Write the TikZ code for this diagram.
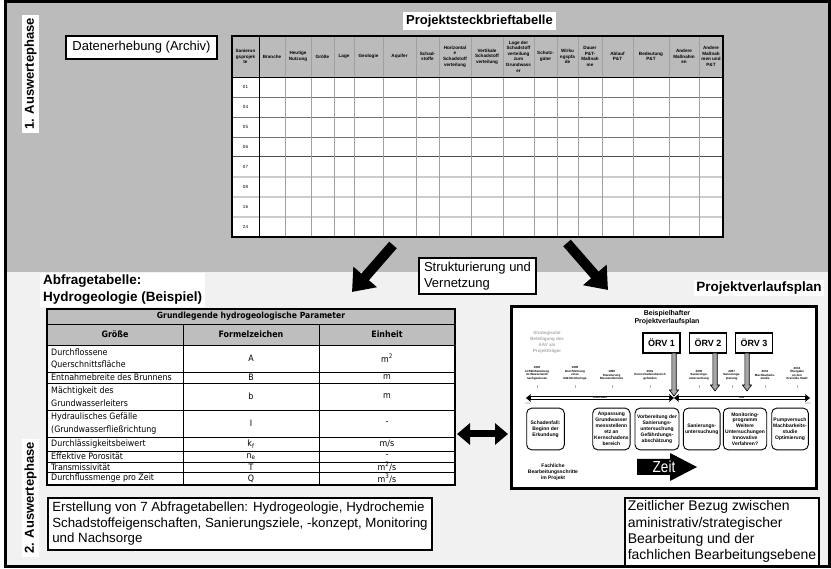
\documentclass[tikz,border=0pt]{standalone}
\usepackage{fontspec}
\setmainfont{Liberation Sans}
\newfontfamily\tabfont{DejaVu Sans Condensed}
\usetikzlibrary{arrows.meta}
\newcommand\fsz[2]{\fontsize{#1}{#2}\selectfont}
% grey block arrow pointing down: x, top y, tip y
\newcommand\orvdrop[3]{%
  \filldraw[fill=gray!70, draw=black, line width=0.6pt]
    (#1-2.2,#2) -- (#1+2.2,#2) -- (#1+2.2,#3-6) -- (#1+4.6,#3-6) -- (#1,#3)
    -- (#1-4.6,#3-6) -- (#1-2.2,#3-6) -- cycle;}

\definecolor{upperbg}{HTML}{BBBBBB}
\definecolor{lowerbg}{HTML}{F1F1F1}
\definecolor{headbg}{HTML}{BEBEBE}
\definecolor{gridline}{HTML}{A0A0A0}
\definecolor{faint}{HTML}{A8A8A8}

\tikzset{
  textbox/.style={draw, line width=1.6pt, fill=white, inner xsep=4pt, inner ysep=4pt, align=left},
  hugearrow/.style={line width=10pt, -{Triangle[length=20pt,width=30pt]}},
  pairarrow/.style={line width=7pt, {Triangle[length=13pt,width=21pt]}-{Triangle[length=13pt,width=21pt]}},
  colhead/.style={font=\bfseries\fsz{4.6}{5.6}, align=center, inner sep=0pt},
  cellt/.style={font=\tabfont\fsz{8.8}{12.5}, inner sep=0pt, align=center},
  orvbox/.style={draw, line width=1.3pt, fill=white, minimum width=37pt, minimum height=20pt, inner sep=0pt, font=\bfseries\fsz{9}{10}},
  stepbox/.style={draw, line width=0.9pt, rounded corners=5pt, fill=white, minimum height=41.7pt, inner sep=0pt, align=center, font=\bfseries\fsz{5}{5.9}},
  evt/.style={anchor=south, align=center, inner sep=0pt, font=\bfseries\fsz{3}{3.4}},
  tline/.style={line width=3.6pt, {Stealth[length=5pt,width=8pt]}-{Stealth[length=5pt,width=8pt]}},
}

\begin{document}
\begin{tikzpicture}[x=1pt,y=-1pt]
\useasboundingbox (0,0) rectangle (831,569);

% two phase backgrounds
\fill[upperbg] (5,2) rectangle (829,272);
\fill[lowerbg] (5,272) rectangle (829,566);

% phase labels
\node[rotate=90, fill=white, inner xsep=3pt, inner ysep=2pt, font=\bfseries\fsz{13}{15}] (phase1) at (30.5,74) {1. Auswertephase};
\node[rotate=90, fill=white, inner xsep=3pt, inner ysep=2pt, font=\bfseries\fsz{13}{15}] (phase2) at (30.5,498) {2. Auswertephase};

% archive box and table title
\node[textbox, line width=2pt, font=\fsz{13}{15}, minimum width=151pt, minimum height=23pt, align=center] (archiv) at (141.5,47.5) {Datenerhebung (Archiv)};
\node[fill=white, inner xsep=3pt, inner ysep=2.5pt, font=\bfseries\fsz{13}{15}] (steckbrief) at (479.5,21) {Projektsteckbrieftabelle};

% project profile table
\fill[white] (232,77) rectangle (723,237);
\foreach \y in {97,117,137} \draw[black!55, line width=0.6pt] (232,\y) -- (723,\y);
\draw[black!70, line width=1pt] (232,157) -- (723,157);
\foreach \y in {177,197,217} \draw[black!20, line width=1.6pt] (232,\y) -- (723,\y);
\foreach \x in {285,311,334,354,383,416,439,471,503,534,557,578,602,633,669,699}
  \draw[gridline, line width=0.8pt] (\x,36) -- (\x,237);
\draw[line width=1pt] (259,36) -- (259,237);
\draw[line width=0.9pt] (232,77) -- (723,77);
\draw[line width=1.3pt] (232,36) rectangle (723,237);
\foreach \x/\t [count=\i] in {245.5/{Sanierun\\gsprojek\\te}, 272/Branche, 298/{Heutige\\Nutzung},
    322.5/Größe, 344/Lage, 368.5/Geologie, 399.5/Aquifer, 427.5/{Schad-\\stoffe},
    455/{Horizontal\\e\\Schadstoff\\verteilung}, 487/{Vertikale\\Schadstoff\\verteilung},
    518.5/{Lage der\\Schadstoff\\verteilung\\zum\\Grundwass\\er}, 545.5/{Schutz-\\güter},
    567.5/{Wirku\\ngspfa\\de}, 590/{Dauer\\P\&T-\\Maßnah\\me}, 617.5/{Ablauf\\P\&T},
    651/{Bedeutung\\P\&T}, 684/{Andere\\Maßnahm\\en}, 711/{Andere\\Maßnah\\men und\\P\&T}}
  \node[colhead] (col\i) at (\x,56.5) {\t};
\foreach \r [count=\i] in {01,04,05,06,07,08,16,24}
  \node[font=\fsz{4.5}{5}, inner sep=0pt] (row\i) at (245.5,{67+20*\i}) {\r};

% arrows from the profile table into phase 2
\coordinate (fromtabL) at (393,245);
\coordinate (toquery) at (352,292);
\coordinate (fromtabR) at (567,243);
\coordinate (toplan) at (608,290);
\draw[hugearrow] (fromtabL) -- (toquery);
\draw[hugearrow] (fromtabR) -- (toplan);

\node[textbox, font=\fsz{13}{15.5}, inner xsep=5pt] (struct) at (477.5,276) {Strukturierung und\\Vernetzung};

\node[anchor=north west, fill=white, align=left, inner xsep=3pt, inner ysep=2pt, font=\bfseries\fsz{13.5}{17}] (abfrage) at (40,273) {Abfragetabelle:\\Hydrogeologie (Beispiel)};
\node[fill=white, inner sep=2pt, font=\bfseries\fsz{13.5}{15}] (verlauf) at (759,288) {Projektverlaufsplan};

% hydrogeology query table
\fill[headbg] (47,309) rectangle (455,345);
\fill[white] (47,345) rectangle (455,485);
\foreach \y in {324,345,372,383,410,437,451,462,472} \draw[line width=0.7pt] (47,\y) -- (455,\y);
\draw[line width=0.7pt] (183,324) -- (183,485) (319,324) -- (319,485);
\draw[line width=1.6pt] (47,309) rectangle (455,485);
\node[cellt, font=\tabfont\bfseries\fsz{8.5}{10}] (hgtitle) at (251,316.5) {Grundlegende hydrogeologische Parameter};
\node[cellt, font=\tabfont\bfseries\fsz{8.8}{10}] (hgA) at (115,334.5) {Größe};
\node[cellt, font=\tabfont\bfseries\fsz{8.8}{10}] (hgB) at (251,334.5) {Formelzeichen};
\node[cellt, font=\tabfont\bfseries\fsz{8.8}{10}] (hgC) at (387,334.5) {Einheit};
\foreach \ym/\a/\b/\c [count=\i] in {
    358.5/{Durchflossene\\Querschnittsfläche}/{A}/{m\textsuperscript{2}},
    377.5/{Entnahmebreite des Brunnens}/{B}/{m},
    396.5/{Mächtigkeit des\\Grundwasserleiters}/{b}/{m},
    423.5/{Hydraulisches Gefälle\\(Grundwasserfließrichtung}/{I}/{-},
    444/{Durchlässigkeitsbeiwert}/{k\textsubscript{f}}/{m/s},
    456.5/{Effektive Porosität}/{n\textsubscript{e}}/{-},
    467/{Transmissivität}/{T}/{m\textsuperscript{2}/s},
    478.5/{Durchflussmenge pro Zeit}/{Q}/{m\textsuperscript{3}/s}} {
  \node[cellt, anchor=west, align=left] (par\i) at (51,\ym) {\a};
  \node[cellt] (sym\i) at (251,\ym) {\b};
  \node[cellt] (unit\i) at (387,\ym) {\c};
}

% link between query table and project plan
\coordinate (tabE) at (457,434);
\coordinate (planW) at (508,434);
\draw[pairarrow] (tabE) -- (planW);

% project plan
\node[draw, line width=3pt, fill=white, anchor=north west, minimum width=305pt, minimum height=182pt, inner sep=0pt] (plan) at (510,305) {};
\node[font=\bfseries\fsz{7}{8.5}, align=center, inner sep=0pt] (plantitle) at (667,317.5) {Beispielhafter\\Projektverlaufsplan};
\node[font=\bfseries\fsz{4.5}{6}, text=faint, align=center, inner sep=0pt] (aav) at (547,342) {Strategische\\Beteiligung des\\AAV als\\Projektträger};
\node[orvbox] (orv1) at (661.5,343) {ÖRV 1};
\node[orvbox] (orv2) at (708,343) {ÖRV 2};
\node[orvbox] (orv3) at (754,343) {ÖRV 3};

% timeline
\coordinate (tlA) at (526,398);
\coordinate (tlM) at (674,398);
\coordinate (tlB) at (810,398);
\draw[tline] (tlA) -- (tlM);
\draw[tline] (tlM) -- (tlB);
\draw[white, line width=2pt] (531,398) -- (669,398) (679,398) -- (805,398);
\node[font=\bfseries\fsz{2.6}{3}, inner sep=0pt] (tlleft) at (600,398) {Kreis/Stadt};
\node[font=\bfseries\fsz{2.6}{3}, inner sep=0pt] (tlright) at (742,398) {AAV};
\node[font=\fsz{2.6}{3}, text=gray, inner sep=0pt] (yearA) at (528,404) {1991};
\node[font=\fsz{2.6}{3}, text=gray, inner sep=0pt] (yearB) at (808,404) {2013};

\orvdrop{674}{353}{396}
\orvdrop{715}{353}{391}
\orvdrop{747}{353}{391}

\foreach \x/\t [count=\i] in {537/{1991\\LCKW-Belastung\\im Wasserwerk\\nachgewiesen},
    575/{1995\\Durchführung\\eines\\GW-Monitorings}, 611.7/{1998\\Erweiterung\\Messstellennetz},
    650/{2001\\Kernschadensbereich\\gefunden}, 699/{2005\\Sanierungs-\\untersuchung},
    731.7/{2007\\Sanierungs-\\planung}, 765/{2010\\Machbarkeits-\\studie},
    797/{2013\\Übergabe\\an den\\Kreis/die Stadt}} {
  \node[evt] (ev\i) at (\x,380) {\t};
  \draw[gray!60, line width=0.4pt] (\x,385) -- (\x,388.5);
}

% work steps
\node[stepbox, minimum width=37.6pt] (st1) at (545.5,429) {Schadenfall:\\Beginn der\\Erkundung};
\node[stepbox, minimum width=37.3pt] (st2) at (611.4,429) {Anpassung\\Grundwasser\\messstellenn\\etz an\\Kernschadens\\bereich};
\node[stepbox, minimum width=44pt] (st3) at (657,429) {Vorbereitung der\\Sanierungs-\\untersuchung\\Gefährdungs-\\abschätzung};
\node[stepbox, minimum width=36.7pt] (st4) at (701.7,429) {Sanierungs-\\untersuchung};
\node[stepbox, minimum width=43.4pt] (st5) at (745,429) {Monitoring-\\programm\\Weitere\\Untersuchungen\\Innovative\\Verfahren?};
\node[stepbox, minimum width=36.6pt] (st6) at (790,429) {Pumpversuch\\Machbarkeits-\\studie\\Optimierung};

\node[font=\bfseries\fsz{5}{5.9}, align=center, inner sep=0pt] (fachlich) at (553,472) {Fachliche\\Bearbeitungsschritte\\im Projekt};

% time arrow
\fill[black] (637,459) -- (670,459) -- (670,453) -- (697,467) -- (670,481) -- (670,475) -- (637,475) -- cycle;
\node[text=white, inner sep=0pt, font=\fsz{16}{16}] (zeit) at (664,467) {\scalebox{0.85}[1]{Zeit}};

% summary boxes
\node[textbox, anchor=north west, font=\fsz{13.3}{15.5}, inner xsep=4.5pt, inner ysep=4.5pt] (summary) at (47,497)
  {Erstellung von 7 Abfragetabellen: Hydrogeologie, Hydrochemie\\Schadstoffeigenschaften, Sanierungsziele, -konzept, Monitoring\\und Nachsorge};
\node[textbox, anchor=north west, font=\fsz{14}{16.3}, inner xsep=3pt, inner ysep=3pt] (bezug) at (624,497)
  {Zeitlicher Bezug zwischen\\aministrativ/strategischer\\Bearbeitung und der\\fachlichen Bearbeitungsebene};

% outer frame
\draw[line width=3pt] (5,2) rectangle (829,566);
\end{tikzpicture}
\end{document}
